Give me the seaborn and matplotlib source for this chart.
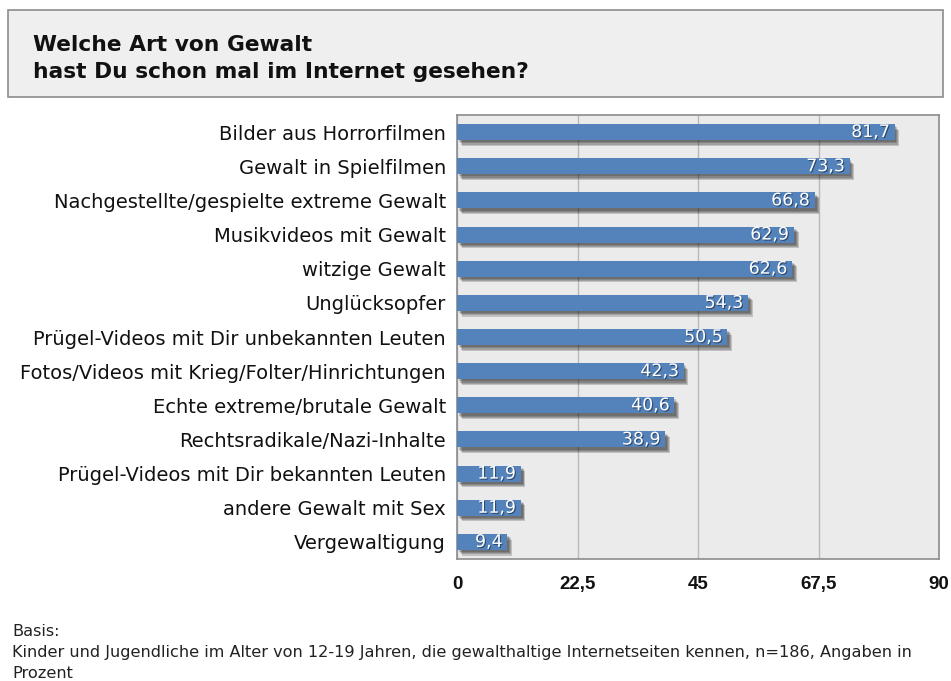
import matplotlib
matplotlib.use("Agg")
import matplotlib.pyplot as plt
import matplotlib.patheffects as pe
from matplotlib.patches import Rectangle
import seaborn as sns
import pandas as pd

categories = [
    "Bilder aus Horrorfilmen",
    "Gewalt in Spielfilmen",
    "Nachgestellte/gespielte extreme Gewalt",
    "Musikvideos mit Gewalt",
    "witzige Gewalt",
    "Unglücksopfer",
    "Prügel-Videos mit Dir unbekannten Leuten",
    "Fotos/Videos mit Krieg/Folter/Hinrichtungen",
    "Echte extreme/brutale Gewalt",
    "Rechtsradikale/Nazi-Inhalte",
    "Prügel-Videos mit Dir bekannten Leuten",
    "andere Gewalt mit Sex",
    "Vergewaltigung",
]
values = [81.7, 73.3, 66.8, 62.9, 62.6, 54.3, 50.5, 42.3, 40.6, 38.9, 11.9, 11.9, 9.4]
ticks = [0, 22.5, 45, 67.5, 90]
tick_labels = ["0", "22,5", "45", "67,5", "90"]

title_lines = ["Welche Art von Gewalt", "hast Du schon mal im Internet gesehen?"]
footer_lines = ["Basis:",
                "Kinder und Jugendliche im Alter von 12-19 Jahren, die gewalthaltige "
                "Internetseiten kennen, n=186, Angaben in",
                "Prozent"]

df = pd.DataFrame({"cat": categories, "val": values})

sns.set_theme(style="white")
plt.rcParams["font.family"] = ["DejaVu Sans"]

W, H = 951, 681
fig = plt.figure(figsize=(W / 100, H / 100), dpi=100)
fig.patch.set_facecolor("white")

# title box
fig.patches.append(Rectangle((8 / W, 1 - 97 / H), (943 - 8) / W, (97 - 10) / H,
                             transform=fig.transFigure, facecolor="#efefef",
                             edgecolor="#8c8c8c", linewidth=1.2, zorder=0))
for yy, line in zip([45, 72], title_lines):
    fig.text(33 / W, 1 - yy / H, line, fontsize=15.7, fontweight="bold",
             family=["DejaVu Sans"], va="center", ha="left", color="#111111")

ax = fig.add_axes([457 / W, 1 - 559 / H, (939 - 457) / W, (559 - 115) / H])
ax.set_facecolor("#ebebeb")

sns.barplot(data=df, x="val", y="cat", orient="h", color="#5482ba",
            saturation=1, width=0.47, ax=ax, zorder=3)

shadow = [pe.SimplePatchShadow(offset=(o, -o * 1.2), shadow_rgbFace="#1a1a1a", alpha=0.2)
          for o in (3.4, 2.7, 2.0, 1.3)] + [pe.Normal()]
for p in ax.patches:
    p.set_path_effects(shadow)
    p.set_edgecolor("none")

for p, v in zip(ax.patches, values):
    y = p.get_y() + p.get_height() / 2
    ax.text(p.get_width() - 0.9, y, f"{v:.1f}".replace(".", ","), ha="right", va="center",
            color="white", fontsize=12.5, zorder=5,
            path_effects=[pe.withSimplePatchShadow(offset=(0.8, -0.8),
                                                   shadow_rgbFace="#1f3350", alpha=0.7)])

ax.set_xlim(0, 90)
ax.set_xticks(ticks)
ax.set_xticklabels(tick_labels, fontsize=13.5, fontweight="bold",
                   family=["Liberation Sans"])
for lab in ax.get_xticklabels():
    lab.set_verticalalignment("center_baseline")
ax.xaxis.grid(True, color="#b8b8b8", linewidth=1, zorder=0)
ax.yaxis.grid(False)
ax.set_axisbelow(True)
ax.set_xlabel("")
ax.set_ylabel("")
ax.tick_params(axis="y", labelsize=14, length=0, pad=8, labelcolor="#111111")
ax.tick_params(axis="x", length=0, pad=17, labelcolor="#111111")
for s in ax.spines.values():
    s.set_color("#8c8c8c")
    s.set_linewidth(1.2)

for yy, line in zip([631, 652, 673], footer_lines):
    fig.text(12 / W, 1 - yy / H, line, fontsize=11.6, va="center", ha="left",
             color="#222222")

fig.savefig("out.png", dpi=100, facecolor="white")
